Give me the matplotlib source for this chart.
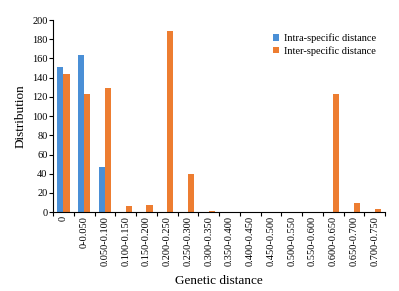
import numpy as np
import matplotlib
matplotlib.use('Agg')
import matplotlib.pyplot as plt

plt.rcParams['font.family'] = 'Liberation Serif'

categories = ['0', '0-0.050', '0.050-0.100', '0.100-0.150', '0.150-0.200',
              '0.200-0.250', '0.250-0.300', '0.300-0.350', '0.350-0.400',
              '0.400-0.450', '0.450-0.500', '0.500-0.550', '0.550-0.600',
              '0.600-0.650', '0.650-0.700', '0.700-0.750']
intra = [151, 164, 47, 0, 0, 0, 0, 0, 0, 0, 0, 0, 0, 0, 0, 0]
inter = [144, 123, 129, 6, 7, 189, 40, 1, 0, 0, 0, 0, 0, 123, 9, 3]

blue = '#4a8fd6'
orange = '#ed7d31'

fig = plt.figure(figsize=(3.99, 2.91), dpi=100)
ax = fig.add_axes([0.133, 0.271, 0.832, 0.66])

x = np.arange(len(categories))
w = 0.3
ax.bar(x - w / 2, intra, w, color=blue, label='Intra-specific distance')
ax.bar(x + w / 2, inter, w, color=orange, label='Inter-specific distance')

ax.set_xlim(-0.5, len(categories) - 0.5)
ax.set_ylim(0, 200)
ax.set_yticks(range(0, 201, 20))
ax.tick_params(axis='y', labelsize=7.5, length=3, width=0.8, pad=1)

# ticks sit on category boundaries, labels centred under each category
ax.set_xticks(np.arange(len(categories) + 1) - 0.5)
ax.set_xticklabels([])
ax.set_xticks(x, minor=True)
ax.set_xticklabels(categories, minor=True, rotation=90, fontsize=7.5,
                   va='top', ha='center')
ax.tick_params(axis='x', which='major', length=3, width=0.8)
ax.tick_params(axis='x', which='minor', length=0, pad=3)

for s in ['top', 'right']:
    ax.spines[s].set_visible(False)
ax.spines['left'].set_linewidth(0.8)
ax.spines['bottom'].set_linewidth(0.8)

ax.set_xlabel('Genetic distance', fontsize=9.5, labelpad=6)
ax.set_ylabel('Distribution', fontsize=9.5, labelpad=4)

ax.legend(loc='upper right', bbox_to_anchor=(1.0, 0.98), fontsize=7.5,
          frameon=False, handlelength=0.6, handleheight=0.6,
          handletextpad=0.4, labelspacing=0.3)

fig.savefig('out.png', dpi=100)
